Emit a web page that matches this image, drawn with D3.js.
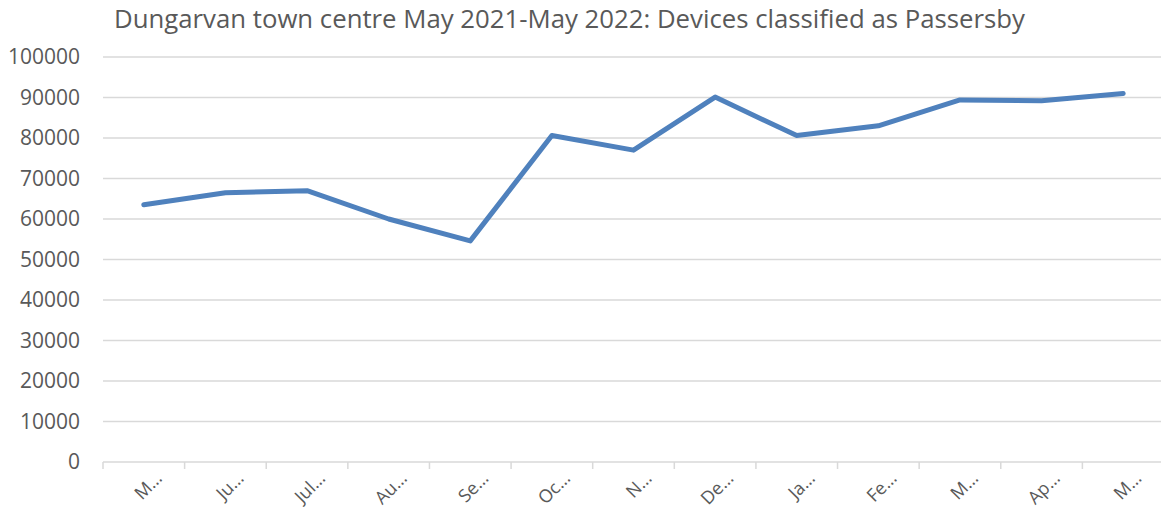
<!DOCTYPE html>
<html>
<head>
<meta charset="utf-8">
<script src="https://cdn.jsdelivr.net/npm/d3@7"></script>
<style>
  body { margin: 0; background: #fff; }
  text { font-family: "Open Sans", sans-serif; fill: #595959; }
</style>
</head>
<body>
<div id="chart"></div>
<script>
// data
const months = ["M…", "Ju…", "Jul…", "Au…", "Se…", "Oc…", "N…", "De…", "Ja…", "Fe…", "M…", "Ap…", "M…"];
const passersby = [63500, 66500, 67000, 60000, 54600, 80600, 77000, 90100, 80600, 83000, 89400, 89200, 91000];
const yTicks = [0, 10000, 20000, 30000, 40000, 50000, 60000, 70000, 80000, 90000, 100000];
const title = "Dungarvan town centre May 2021-May 2022: Devices classified as Passersby";

// set the dimensions and margins of the graph
var margin = {top: 57, right: 0, bottom: 49, left: 103},
    width = 1164 - margin.left - margin.right,
    height = 511 - margin.top - margin.bottom;

const svgRoot = d3.select("#chart")
.append("svg")
.attr("width", 1161)
.attr("height", 511);

const svg = svgRoot.append("g")
.attr("transform", `translate(${margin.left}, ${margin.top})`);

// title
const t = svgRoot.append("text")
.attr("x", 114)
.attr("y", 28)
.style("font-size", "22px")
.text(title);
// fit title to its width in the reference
const tw = t.node().getComputedTextLength();
t.style("font-size", (22 * 911 / tw) + "px");

// X scale (one band per month)
const x = d3.scaleBand()
.domain(d3.range(months.length))
.range([0, width]);

// Y scale
const y = d3.scaleLinear()
.domain([0, 100000])
.range([height, 0]);

// gridlines
svg.append("g")
.selectAll("line")
.data(yTicks.slice(1))
.join("line")
.attr("x1", 0)
.attr("x2", width)
.attr("y1", d => y(d))
.attr("y2", d => y(d))
.style("stroke", "#d9d9d9")
.style("stroke-width", 1.5);

// Y labels
svg.append("g")
.selectAll("text")
.data(yTicks)
.join("text")
.attr("x", -23)
.attr("y", d => y(d))
.attr("dy", "0.35em")
.attr("text-anchor", "end")
.style("font-size", "21px")
.text(d => d);

// X axis line and ticks
svg.append("line")
.attr("x1", 0).attr("x2", width)
.attr("y1", height).attr("y2", height)
.style("stroke", "#d9d9d9").style("stroke-width", 1.5);

svg.append("g")
.selectAll("line")
.data(d3.range(months.length + 1))
.join("line")
.attr("x1", d => d * x.step())
.attr("x2", d => d * x.step())
.attr("y1", height)
.attr("y2", height + 7)
.style("stroke", "#d9d9d9").style("stroke-width", 1.5);

// X labels, rotated
svg.append("g")
.selectAll("text")
.data(months)
.join("text")
.attr("text-anchor", "end")
.attr("transform", (d, i) => `translate(${x(i) + x.bandwidth() / 2 + 15}, ${height + 13}) rotate(-45)`)
.attr("dy", "0.35em")
.style("font-size", "18px")
.text(d => d);

// the line
const line = d3.line()
.x((d, i) => x(i) + x.bandwidth() / 2)
.y(d => y(d));

svg.append("path")
.datum(passersby)
.attr("d", line)
.style("fill", "none")
.style("stroke", "#4f81bd")
.style("stroke-width", 5)
.style("stroke-linejoin", "round")
.style("stroke-linecap", "round");
</script>
</body>
</html>
